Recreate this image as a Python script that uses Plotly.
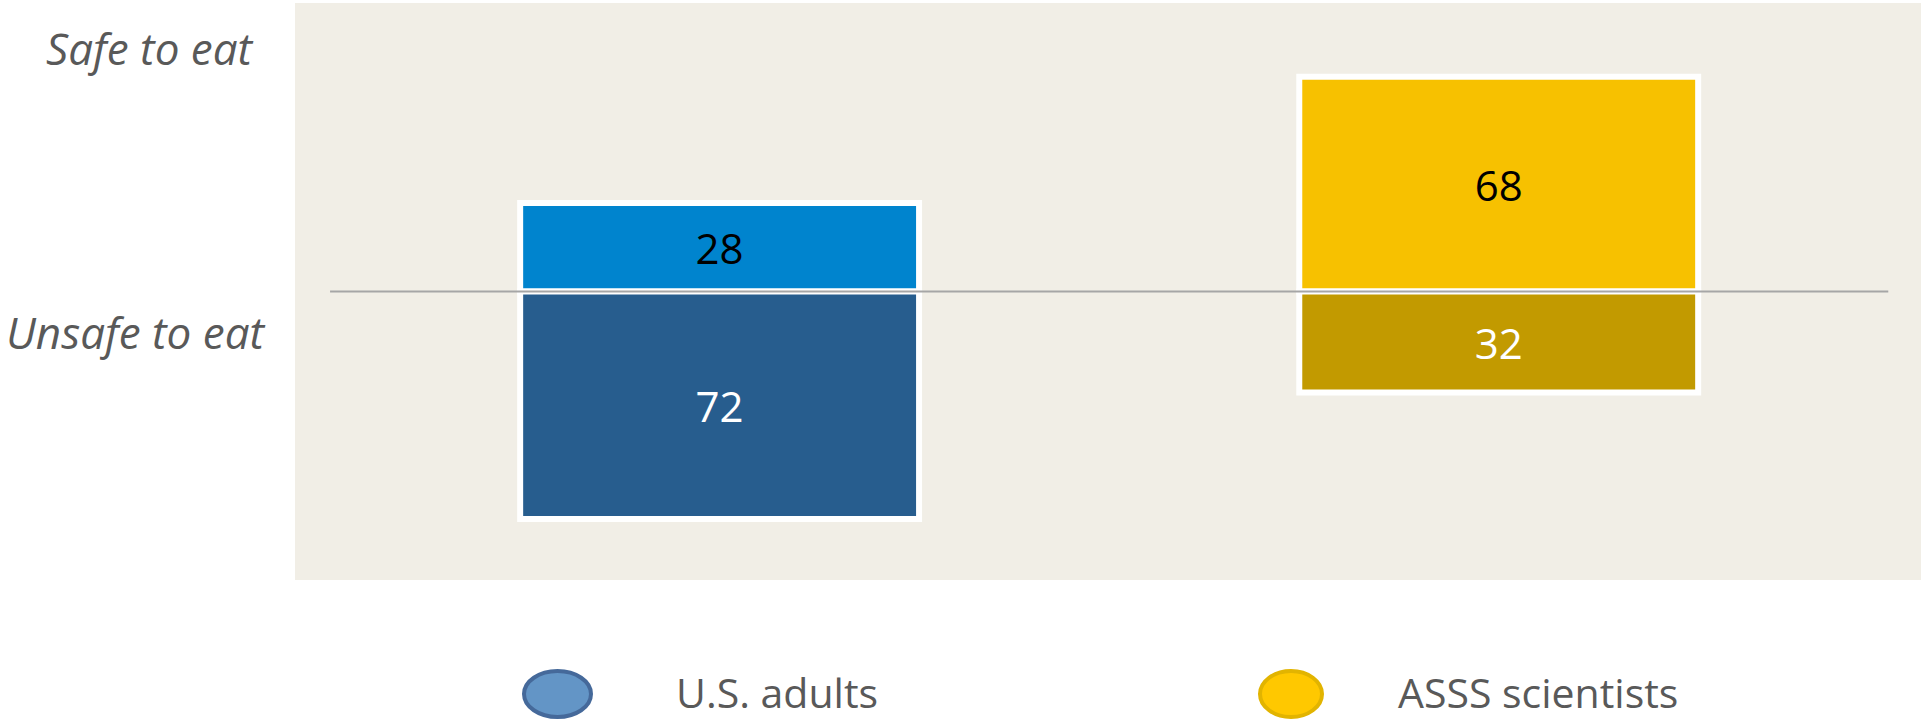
import plotly.graph_objects as go

# ---- data ----
categories = ["U.S. adults", "ASSS scientists"]
safe_values = [28, 68]
unsafe_values = [72, 32]
side_labels = ["Safe to eat", "Unsafe to eat"]
legend_labels = ["U.S. adults", "ASSS scientists"]

# ---- styles ----
safe_colors = ["#0084CE", "#F7C100"]
unsafe_colors = ["#275D8E", "#C29A00"]
safe_text_colors = ["#000000", "#000000"]
unsafe_text_colors = ["#FFFFFF", "#FFFFFF"]
legend_fill = ["#6395C6", "#FFC800"]
legend_line = ["#45699A", "#E2B400"]
FONT = "Open Sans"
GREY = "#595959"

W, H = 1921, 721
L, T, R, B = 295, 3, 0, 141
pw, ph = W - L - R, H - T - B


def px(x):
    return (x - L) / pw


def py(y):
    return (H - B - y) / ph


fig = go.Figure()
fig.add_trace(go.Bar(
    x=categories, y=safe_values, name="Safe",
    marker=dict(color=safe_colors, line=dict(color="white", width=6)),
    text=[str(v) for v in safe_values], textposition="inside",
    insidetextanchor="middle", textangle=0, constraintext="none",
    textfont=dict(family=FONT, size=42, color=safe_text_colors),
    width=0.512, showlegend=False, hoverinfo="skip",
))
fig.add_trace(go.Bar(
    x=categories, y=[-v for v in unsafe_values], name="Unsafe",
    marker=dict(color=unsafe_colors, line=dict(color="white", width=6)),
    text=[str(v) for v in unsafe_values], textposition="inside",
    insidetextanchor="middle", textangle=0, constraintext="none",
    textfont=dict(family=FONT, size=42, color=unsafe_text_colors),
    width=0.512, showlegend=False, hoverinfo="skip",
))

shapes = [
    dict(type="line", xref="x", yref="y", x0=-0.5, x1=1.5, y0=0, y1=0,
         line=dict(color="#A6A6A6", width=2), layer="above"),
]
# legend ellipses
ell = [(522, 593), (1258, 1324)]
for (x0, x1), fc, lc in zip(ell, legend_fill, legend_line):
    shapes.append(dict(type="circle", xref="paper", yref="paper",
                       x0=px(x0 + 2), x1=px(x1 - 2), y0=py(717), y1=py(671),
                       fillcolor=fc, line=dict(color=lc, width=4)))

annotations = [
    dict(text=side_labels[0], xref="paper", yref="paper", x=px(150), y=py(48),
         xanchor="center", yanchor="middle", showarrow=False,
         font=dict(family=FONT, size=44, color=GREY, style="italic")),
    dict(text=side_labels[1], xref="paper", yref="paper", x=px(136), y=py(332),
         xanchor="center", yanchor="middle", showarrow=False,
         font=dict(family=FONT, size=44, color=GREY, style="italic")),
]
for lbl, x in zip(legend_labels, [674, 1396]):
    annotations.append(dict(text=lbl, xref="paper", yref="paper", x=px(x), y=py(692),
                            xanchor="left", yanchor="middle", showarrow=False,
                            font=dict(family=FONT, size=41, color=GREY)))

fig.update_layout(
    width=W, height=H,
    margin=dict(l=L, r=R, t=T, b=B, pad=0),
    barmode="relative",
    paper_bgcolor="white", plot_bgcolor="#F1EEE6",
    xaxis=dict(range=[-0.545, 1.542], showticklabels=False, showgrid=False,
               zeroline=False, showline=False, ticks=""),
    yaxis=dict(range=[-91.3, 91.3], showticklabels=False, showgrid=False,
               zeroline=False, showline=False, ticks=""),
    shapes=shapes, annotations=annotations,
    font=dict(family=FONT, color=GREY),
)

fig.write_html("out.html")
